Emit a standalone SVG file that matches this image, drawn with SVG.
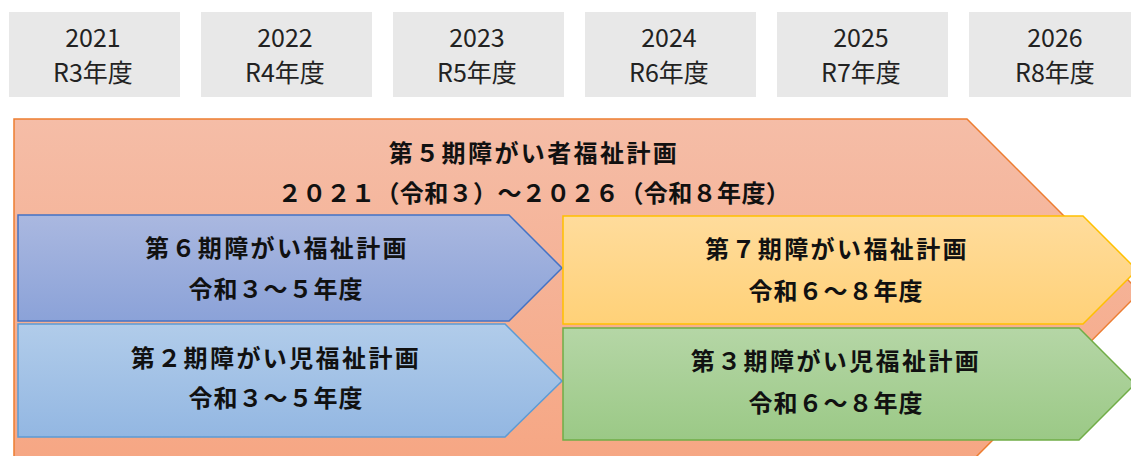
<svg xmlns="http://www.w3.org/2000/svg" width="1131" height="456" viewBox="0 0 1131 456">
<style>
.yr{fill:#E8E8E8}
.yt{font-family:"Noto Sans CJK JP","Noto Sans",sans-serif;font-size:25px;fill:#222;text-anchor:middle}
.bt{font-family:"Noto Sans CJK JP","Noto Sans",sans-serif;font-size:24px;font-weight:bold;fill:#111;text-anchor:middle;letter-spacing:2.4px}
.s2{letter-spacing:1px}
.s0{letter-spacing:0.4px}
</style>
<defs>
<linearGradient id="gO" x1="0" y1="0" x2="0" y2="1"><stop offset="0" stop-color="#F5BDA7"/><stop offset="1" stop-color="#F6A683"/></linearGradient>
<linearGradient id="gB" x1="0" y1="0" x2="0" y2="1"><stop offset="0" stop-color="#AAB8E0"/><stop offset="1" stop-color="#8BA2D8"/></linearGradient>
<linearGradient id="gL" x1="0" y1="0" x2="0" y2="1"><stop offset="0" stop-color="#B1CCEA"/><stop offset="1" stop-color="#93B7E2"/></linearGradient>
<linearGradient id="gY" x1="0" y1="0" x2="0" y2="1"><stop offset="0" stop-color="#FFDC9C"/><stop offset="1" stop-color="#FFD178"/></linearGradient>
<linearGradient id="gG" x1="0" y1="0" x2="0" y2="1"><stop offset="0" stop-color="#B5D6A6"/><stop offset="1" stop-color="#9BC986"/></linearGradient>
</defs>
<g id="years">
<rect class="yr" x="9" y="12" width="171" height="85"/>
<rect class="yr" x="201" y="12" width="171" height="85"/>
<rect class="yr" x="393" y="12" width="171" height="85"/>
<rect class="yr" x="585" y="12" width="171" height="85"/>
<rect class="yr" x="777" y="12" width="171" height="85"/>
<rect class="yr" x="969" y="12" width="171" height="85"/>
<text class="yt" x="93" y="47">2021</text><text class="yt" x="93" y="82">R3年度</text>
<text class="yt" x="285" y="47">2022</text><text class="yt" x="285" y="82">R4年度</text>
<text class="yt" x="477" y="47">2023</text><text class="yt" x="477" y="82">R5年度</text>
<text class="yt" x="669" y="47">2024</text><text class="yt" x="669" y="82">R6年度</text>
<text class="yt" x="861" y="47">2025</text><text class="yt" x="861" y="82">R7年度</text>
<text class="yt" x="1055" y="47">2026</text><text class="yt" x="1055" y="82">R8年度</text>
</g>
<g id="plan5">
<polygon points="14,119 967,119 1140,292 967,466 14,466" fill="url(#gO)" stroke="#ED7D31" stroke-width="1.5"/>
<text class="bt" x="534" y="162">第５期障がい者福祉計画</text>
<text class="bt s0" x="534" y="202">２０２１（令和３）～２０２６（令和８年度）</text>
</g>
<g id="plan6">
<polygon points="18,215 509,215 562,268 509,321 18,321" fill="url(#gB)" stroke="#4472C4" stroke-width="1.5"/>
<text class="bt" x="277" y="257">第６期障がい福祉計画</text>
<text class="bt s2" x="276" y="298">令和３～５年度</text>
</g>
<g id="child2">
<polygon points="18,324 505,324 562,381 505,437 18,437" fill="url(#gL)" stroke="#5B9BD5" stroke-width="1.5"/>
<text class="bt" x="276" y="367">第２期障がい児福祉計画</text>
<text class="bt s2" x="276" y="407">令和３～５年度</text>
</g>
<g id="plan7">
<polygon points="563,216 1083,216 1137,270 1083,324 563,324" fill="url(#gY)" stroke="#FFC000" stroke-width="1.5"/>
<text class="bt" x="837" y="258">第７期障がい福祉計画</text>
<text class="bt s2" x="836" y="300">令和６～８年度</text>
</g>
<g id="child3">
<polygon points="563,328 1079,328 1135,384 1079,440 563,440" fill="url(#gG)" stroke="#70AD47" stroke-width="1.5"/>
<text class="bt" x="836" y="370">第３期障がい児福祉計画</text>
<text class="bt s2" x="836" y="412">令和６～８年度</text>
</g>
<g id="connectors"/>
</svg>
